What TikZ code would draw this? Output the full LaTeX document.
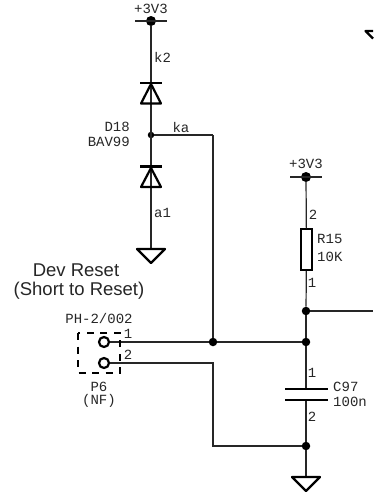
\documentclass[tikz,border=0pt]{standalone}
\usepackage{fontspec}
\setmainfont{Liberation Sans}
\newfontfamily\schfont{Liberation Mono}
\usetikzlibrary{arrows,calc}
\tikzset{>=latex}
\tikzstyle{wire}=[draw=black!85,line width=1.2pt]
\tikzstyle{plate}=[draw=black,line width=2.4pt]
\tikzstyle{body}=[draw=black,line width=2.2pt,line join=round]
\tikzstyle{net}=[circle,fill=black,inner sep=0pt,minimum size=8.5pt]
\tikzstyle{rail}=[circle,fill=black,inner sep=0pt,minimum size=10pt]
\tikzstyle{pin}=[circle,draw=black,line width=2.2pt,fill=white,inner sep=0pt,minimum size=10pt]
\tikzstyle{sch}=[inner sep=0pt,text=black!85,font=\schfont\fontsize{14}{15}\selectfont]
\tikzstyle{note}=[inner sep=0pt,text=black!85,font=\fontsize{18.5}{20}\selectfont]

\begin{document}
\begin{tikzpicture}[x=1pt,y=-1pt]
	\useasboundingbox (0,0) rectangle (373,496);

	% left rail
	\node[rail] (vcc1) at (151,21) {};
	\node[net,minimum size=6.5pt] (mid) at (151,135) {};
	\coordinate (gnd1) at (151,249);
	\coordinate (ka1) at (213,135);
	\draw[wire] (vcc1) -- (gnd1);
	\draw[wire] (mid) -- (ka1);
	\draw[wire] ($(vcc1)+(-16,0)$) -- ($(vcc1)+(16,0)$);

	% diodes
	\draw[plate] (140,83) -- (162,83);
	\draw[body] (151,84) -- (141,103.5) -- (161,103.5) -- cycle;
	\draw[plate] (140,166.5) -- (162,166.5);
	\draw[body] (151,168) -- (141,187) -- (161,187) -- cycle;
	\draw[body] (gnd1) ++(-14,0) -- ++(28,0) -- ++(-14,14) -- cycle;

	% right rail
	\node[rail] (vcc2) at (306,177) {};
	\node[net] (top) at (306,311) {};
	\node[net] (jn1) at (306,342) {};
	\node[net] (jn2) at (213,342) {};
	\node[net] (jn3) at (306,446) {};
	\node[draw=black,line width=1.5pt,fill=white,minimum width=11pt,minimum height=41pt,inner sep=0pt] (r15) at (306.5,249.5) {};
	\coordinate (gnd2) at (306,477);
	\coordinate (out) at (373,311);
	\coordinate (c1) at (306,389);
	\coordinate (c2) at (306,400);
	\draw[wire] ($(vcc2)+(-16,0)$) -- ($(vcc2)+(16,0)$);
	\draw[wire] (vcc2) -- (r15);
	\draw[wire] (r15) -- (top);
	\draw[wire] (top) -- (jn1);
	\draw[wire] (top) -- (out);
	\draw[wire] (jn1) -- (c1);
	\draw[wire] (c2) -- (jn3);
	\draw[wire] (jn3) -- (gnd2);
	\draw[plate] (285,389) -- (328,389);
	\draw[plate] (285,400) -- (328,400);
	\draw[body] (gnd2) ++(-14,0) -- ++(28,0) -- ++(-14,14) -- cycle;

	% connector
	\node[pin] (p1) at (104,342) {};
	\node[pin] (p2) at (104,363) {};
	\draw[wire] (ka1) -- (jn2);
	\draw[wire] (p1) -- (jn2);
	\draw[wire] (jn2) -- (jn1);
	\draw[wire] (p2) -| (213,446) -- (jn3);
	\draw[draw=black,line width=1.2pt,dash pattern=on 7pt off 6.5pt] (78,333) rectangle (120,373);

	% corner at the edge
	\draw[body] (373,31) -- (365.5,31) -- (373,38.5);

	% labels
	\node[sch] (vcc1txt) at (151,9) {+3V3};
	\node[sch,anchor=west] (k2txt) at (154,57) {k2};
	\node[sch,anchor=east] (d18txt) at (130,127) {D18};
	\node[sch,anchor=east] (bavtxt) at (130,142) {BAV99};
	\node[sch] (katxt) at (181,127) {ka};
	\node[sch,anchor=west] (a1txt) at (154,213) {a1};
	\node[note] (devtxt) at (76,270) {Dev Reset};
	\node[note] (shorttxt) at (79,291) {(Short to Reset)};
	\node[sch] (phtxt) at (99,318) {PH-2/002};
	\node[sch] (pin1txt) at (128,334) {1};
	\node[sch] (pin2txt) at (128,355) {2};
	\node[sch] (p6txt) at (99,387) {P6};
	\node[sch] (nftxt) at (99,401) {(NF)};
	\node[sch] (vcc2txt) at (306,164) {+3V3};
	\node[sch] (r2txt) at (313,215) {2};
	\node[sch,anchor=west] (r15txt) at (317,239) {R15};
	\node[sch,anchor=west] (r10txt) at (317,257) {10K};
	\node[sch] (r1txt) at (312,283) {1};
	\node[sch] (c1txt) at (312,373) {1};
	\node[sch,anchor=west] (c97txt) at (333,387) {C97};
	\node[sch,anchor=west] (c100txt) at (333,402) {100n};
	\node[sch] (c2txt) at (312,417) {2};
\end{tikzpicture}
\end{document}
